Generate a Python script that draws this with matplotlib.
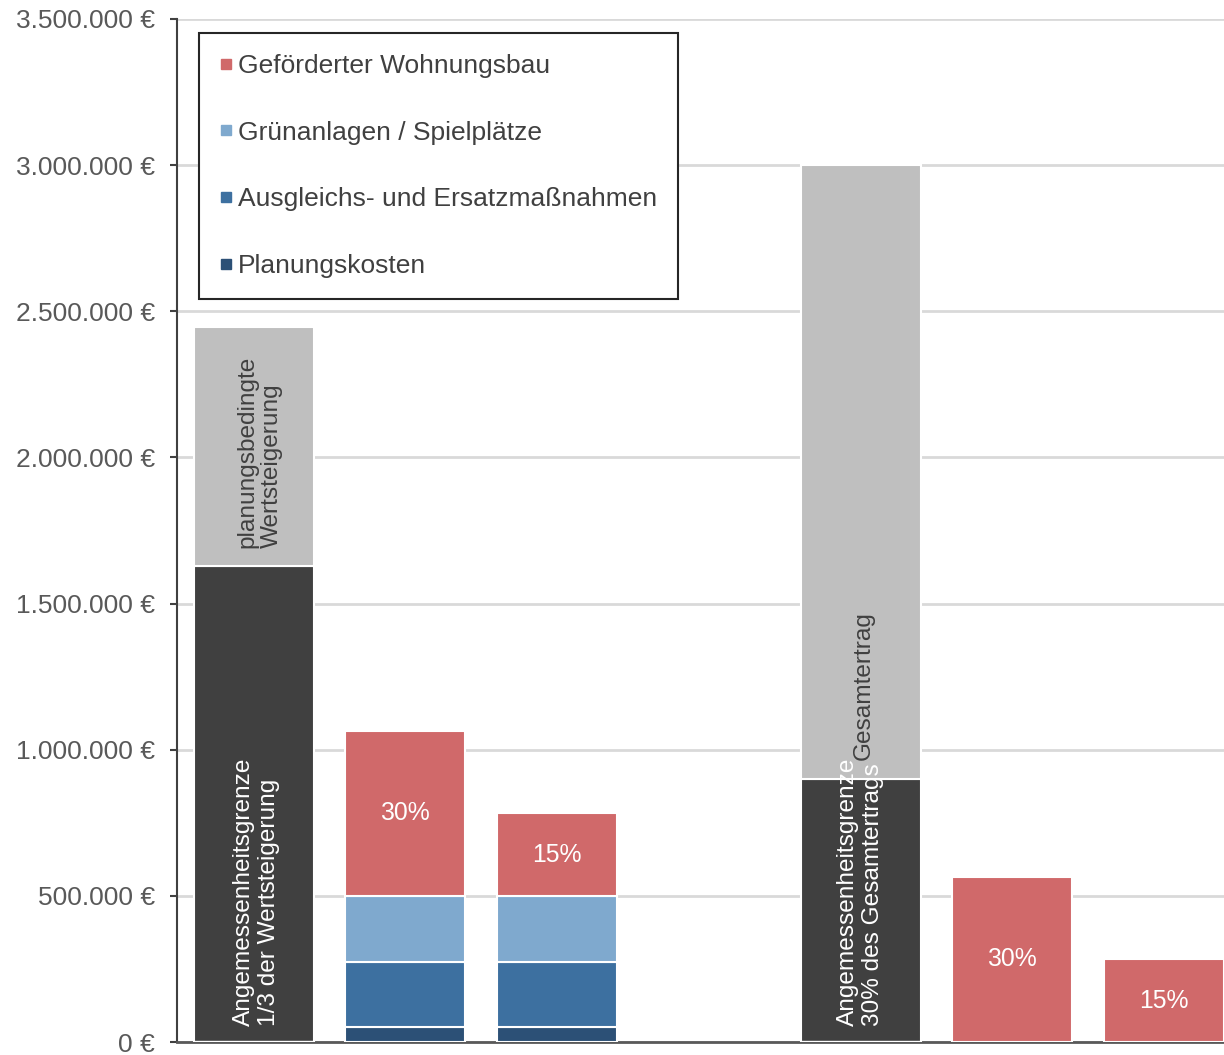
import matplotlib.pyplot as plt
import matplotlib.ticker as mticker
from matplotlib.lines import Line2D

plt.rcParams['font.family'] = ['Liberation Sans', 'DejaVu Sans']

# Balkenpositionen (Platz 3 bleibt frei)
positions = [0, 1, 2, 4, 5, 6]

# Werte je Segment (in €)
angemessenheit = [1630000, 0, 0, 900000, 0, 0]
rest_gray = [815000, 0, 0, 2100000, 0, 0]
planungskosten = [0, 50000, 50000, 0, 0, 0]
ausgleich = [0, 225000, 225000, 0, 0, 0]
gruen = [0, 225000, 225000, 0, 0, 0]
wohnungsbau = [0, 565000, 282500, 0, 565000, 282500]
pct_labels = ['', '30%', '15%', '', '30%', '15%']

y_ticks = [0, 500000, 1000000, 1500000, 2000000, 2500000, 3000000, 3500000]

C_DARK = '#404040'
C_LGRAY = '#bfbfbf'
C_RED = '#d0696a'
C_LBLUE = '#7fa9ce'
C_MBLUE = '#3d70a0'
C_DBLUE = '#2c5076'
TXT = '#595959'

fig = plt.figure(figsize=(12.24, 10.55), dpi=100)
ax = fig.add_axes([0.1446, 0.0123, 0.8554, 0.9697])

w = 0.79
ekw = dict(width=w, edgecolor='white', linewidth=1.5, zorder=3)

ax.bar(positions, angemessenheit, color=C_DARK, **ekw)
ax.bar(positions, rest_gray, bottom=angemessenheit, color=C_LGRAY, **ekw)

b = [0] * len(positions)
for vals, col in [(planungskosten, C_DBLUE), (ausgleich, C_MBLUE),
                  (gruen, C_LBLUE), (wohnungsbau, C_RED)]:
    ax.bar(positions, vals, bottom=b, color=col, **ekw)
    if col == C_RED:
        for x, base, v, lab in zip(positions, b, vals, pct_labels):
            if lab:
                ax.text(x, base + v / 2, lab, ha='center', va='center',
                        color='white', fontsize=17.8, zorder=5)
    b = [bb + v for bb, v in zip(b, vals)]

# Beschriftungen in den Balken
FS = 17.6
ax.text(0.02, 55000, 'Angemessenheitsgrenze\n1/3 der Wertsteigerung', rotation=90,
        ha='center', va='bottom', multialignment='left', color='white',
        fontsize=FS, zorder=5, linespacing=1.15)
ax.text(0.04, angemessenheit[0] + 60000, 'planungsbedingte\nWertsteigerung',
        rotation=90, ha='center', va='bottom', multialignment='left',
        color=C_DARK, fontsize=FS, zorder=5, linespacing=1.15)
ax.text(4.0, 55000, 'Angemessenheitsgrenze\n30% des Gesamtertrags', rotation=90,
        ha='center', va='bottom', multialignment='left', color='white',
        fontsize=FS, zorder=5, linespacing=1.15)
ax.text(4.02, 965000, 'Gesamtertrag', rotation=90, ha='center', va='bottom',
        color=C_DARK, fontsize=FS, zorder=5)

ax.set_xlim(-0.505, 6.395)
ax.set_ylim(0, 3500000)
ax.set_yticks(y_ticks)
ax.yaxis.set_major_formatter(mticker.FuncFormatter(
    lambda v, p: '{:,.0f} €'.format(v).replace(',', '.')))
ax.tick_params(axis='y', labelsize=19, labelcolor=TXT, color=C_DARK,
               length=5, width=1.5, pad=11)
ax.set_xticks([])
ax.grid(axis='y', color='#d9d9d9', linewidth=2, zorder=0)
ax.set_axisbelow(True)

for s in ['top', 'right']:
    ax.spines[s].set_visible(False)
ax.spines['left'].set_color(C_DARK)
ax.spines['left'].set_linewidth(1.5)
ax.spines['bottom'].set_color('#595959')
ax.spines['bottom'].set_linewidth(2)

handles = [
    Line2D([], [], marker='s', linestyle='none', markersize=7.5, color=C_RED,
           label='Geförderter Wohnungsbau'),
    Line2D([], [], marker='s', linestyle='none', markersize=7.5, color=C_LBLUE,
           label='Grünanlagen / Spielplätze'),
    Line2D([], [], marker='s', linestyle='none', markersize=7.5, color=C_MBLUE,
           label='Ausgleichs- und Ersatzmaßnahmen'),
    Line2D([], [], marker='s', linestyle='none', markersize=7.5, color=C_DBLUE,
           label='Planungskosten'),
]
leg = ax.legend(handles=handles, loc='upper left', bbox_to_anchor=(0.021, 0.986),
                borderaxespad=0, fontsize=19, labelspacing=1.62, handlelength=0.5,
                handletextpad=0.2, borderpad=0.78, fancybox=False, framealpha=1,
                edgecolor='#262626')
leg.get_frame().set_linewidth(1.5)
for t in leg.get_texts():
    t.set_color(C_DARK)

fig.savefig('out.png', dpi=100)
